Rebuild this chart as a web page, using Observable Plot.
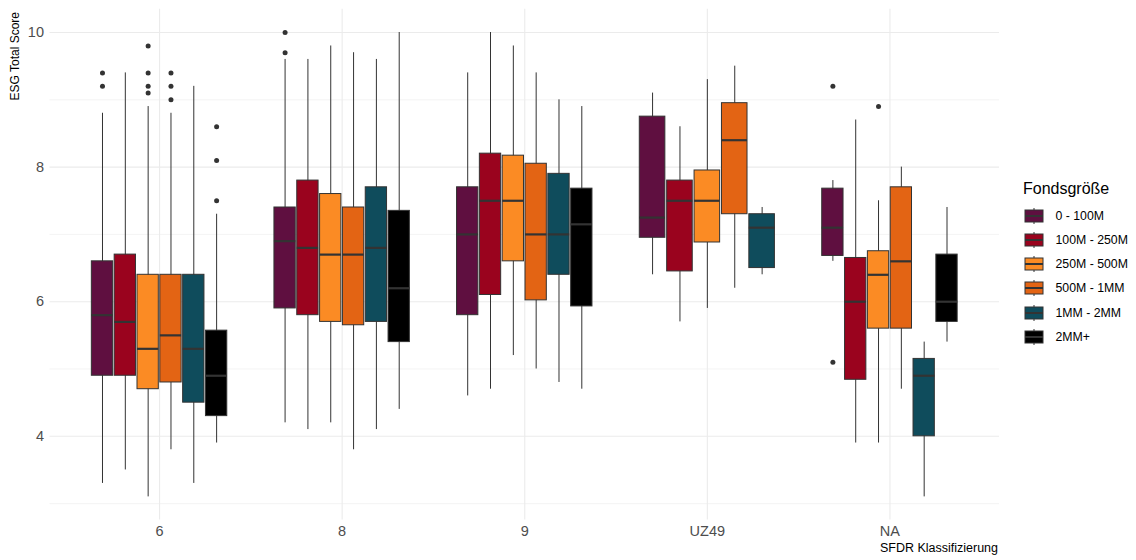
<!DOCTYPE html>
<html>
<head>
<meta charset="utf-8">
<script src="https://cdn.jsdelivr.net/npm/d3@7"></script>
<script src="https://cdn.jsdelivr.net/npm/@observablehq/plot@0.6"></script>
<style>
  body { margin: 0; background: #fff; font-family: "Liberation Sans", Arial, Helvetica, sans-serif; }
  #wrap { position: relative; width: 1136px; height: 560px; overflow: hidden; background: #fff; }
  #wrap > svg.main { position: absolute; left: 0; top: 0; }
  .ytitle { position: absolute; left: 9px; top: 12px; font-size: 12px; line-height: 12px; color: #000;
            writing-mode: vertical-rl; transform: rotate(180deg); white-space: nowrap; }
  .xtitle { position: absolute; left: 0; width: 998px; top: 542px; text-align: right; font-size: 12.5px; line-height: 1; color: #000; white-space: nowrap; }
  .ltitle { position: absolute; left: 1023px; top: 181px; font-size: 16px; line-height: 1; color: #000; white-space: nowrap; }
  #wrap > svg.lkey { position: absolute; left: 1024px; }
  .llab { position: absolute; left: 1055.5px; font-size: 12.3px; line-height: 14px; color: #000; white-space: nowrap; }
</style>
</head>
<body>
<div id="wrap"></div>
<script>
// ---- data ----
const categories = ["6", "8", "9", "UZ49", "NA"];
const groups = ["0 - 100M", "100M - 250M", "250M - 500M", "500M - 1MM", "1MM - 2MM", "2MM+"];
const colors = ["#5F0F40", "#9A031E", "#FB8B24", "#E36414", "#0F4C5C", "#000000"];
const yTicks = [4, 6, 8, 10];
const yMinor = [3, 5, 7, 9];
const legendTitle = "Fondsgröße";
const yTitle = "ESG Total Score";
const xTitle = "SFDR Klassifizierung";

// [group, lower whisker, Q1, median, Q3, upper whisker]
const stats6 = [
  ["0 - 100M",    3.3, 4.9,  5.8, 6.6,  8.8],
  ["100M - 250M", 3.5, 4.9,  5.7, 6.7,  9.4],
  ["250M - 500M", 3.1, 4.7,  5.3, 6.4,  8.9],
  ["500M - 1MM",  3.8, 4.8,  5.5, 6.4,  8.8],
  ["1MM - 2MM",   3.3, 4.5,  5.3, 6.4,  9.2],
  ["2MM+",        3.9, 4.3,  4.9, 5.57, 7.3]
];
const stats8 = [
  ["0 - 100M",    4.2, 5.9,  6.9, 7.4,  9.6],
  ["100M - 250M", 4.1, 5.8,  6.8, 7.8,  9.6],
  ["250M - 500M", 4.2, 5.7,  6.7, 7.6,  9.8],
  ["500M - 1MM",  3.8, 5.65, 6.7, 7.4,  9.7],
  ["1MM - 2MM",   4.1, 5.7,  6.8, 7.7,  9.6],
  ["2MM+",        4.4, 5.4,  6.2, 7.35, 10.0]
];
const stats9 = [
  ["0 - 100M",    4.6, 5.8,  7.0,  7.7,  9.4],
  ["100M - 250M", 4.7, 6.1,  7.5,  8.2,  10.0],
  ["250M - 500M", 5.2, 6.6,  7.5,  8.17, 9.8],
  ["500M - 1MM",  5.0, 6.02, 7.0,  8.05, 9.4],
  ["1MM - 2MM",   4.8, 6.4,  7.0,  7.9,  9.0],
  ["2MM+",        4.7, 5.93, 7.15, 7.68, 8.9]
];
const statsUZ49 = [
  ["0 - 100M",    6.4, 6.95, 7.25, 8.75, 9.1],
  ["100M - 250M", 5.7, 6.45, 7.5,  7.8,  8.6],
  ["250M - 500M", 5.9, 6.88, 7.5,  7.95, 9.3],
  ["500M - 1MM",  6.2, 7.3,  8.4,  8.95, 9.5],
  ["1MM - 2MM",   6.4, 6.5,  7.1,  7.3,  7.4]
];
const statsNA = [
  ["0 - 100M",    6.6, 6.68, 7.1, 7.68, 7.8],
  ["100M - 250M", 3.9, 4.84, 6.0, 6.65, 8.7],
  ["250M - 500M", 3.9, 5.6,  6.4, 6.75, 7.5],
  ["500M - 1MM",  4.7, 5.6,  6.6, 7.7,  8.0],
  ["1MM - 2MM",   3.1, 4.0,  4.9, 5.15, 5.4],
  ["2MM+",        5.4, 5.7,  6.0, 6.7,  7.4]
];
// [group, value]
const outliers6 = [
  ["0 - 100M", 9.4], ["0 - 100M", 9.2],
  ["250M - 500M", 9.8], ["250M - 500M", 9.4], ["250M - 500M", 9.2], ["250M - 500M", 9.1],
  ["500M - 1MM", 9.4], ["500M - 1MM", 9.2], ["500M - 1MM", 9.0],
  ["2MM+", 8.6], ["2MM+", 8.1], ["2MM+", 7.5]
];
const outliers8 = [["0 - 100M", 10.0], ["0 - 100M", 9.7]];
const outliers9 = [];
const outliersUZ49 = [];
const outliersNA = [["0 - 100M", 9.2], ["0 - 100M", 5.1], ["250M - 500M", 8.9]];

// ---- build tables (dodged positions) ----
const statsByCat = [stats6, stats8, stats9, statsUZ49, statsNA];
const outByCat = [outliers6, outliers8, outliers9, outliersUZ49, outliersNA];
const dodgeWidth = 0.75, boxWidth = 0.7;
const boxes = statsByCat.flatMap((rows, ci) => rows.map(([group, lo, q1, med, q3, hi], k) => {
  const n = rows.length;
  const xc = ci + (k - (n - 1) / 2) * dodgeWidth / n;
  const hw = boxWidth / n / 2;
  return {cat: categories[ci], group, xc, x1: xc - hw, x2: xc + hw, lo, q1, med, q3, hi};
}));
const outs = outByCat.flatMap((list, ci) => list.map(([group, v]) => {
  const b = boxes.find(d => d.cat === categories[ci] && d.group === group);
  return {group, xc: b.xc, v};
}));

const font = '"Liberation Sans", Arial, Helvetica, sans-serif';
const chart = Plot.plot({
  width: 999,
  height: 560,
  marginLeft: 49.5,
  marginRight: 0,
  marginTop: 8.8,
  marginBottom: 40.4,
  style: {fontFamily: font, background: "transparent", overflow: "visible"},
  x: {domain: [-0.6, categories.length - 0.4]},
  y: {domain: [2.755, 10.345]},
  color: {domain: groups, range: colors},
  marks: [
    Plot.ruleY(yMinor, {stroke: "#ececec", strokeWidth: 0.6}),
    Plot.ruleY(yTicks, {stroke: "#ebebeb", strokeWidth: 1.1}),
    Plot.ruleX(d3.range(categories.length), {stroke: "#ebebeb", strokeWidth: 1.1}),
    Plot.axisY(yTicks, {tickSize: 0, tickPadding: 6, fontSize: 14.5, color: "#4d4d4d", label: null,
      tickFormat: d3.format("d")}),
    Plot.axisX(d3.range(categories.length), {tickSize: 0, tickPadding: 6, fontSize: 14.5, color: "#4d4d4d",
      tickFormat: i => categories[i], label: null}),
    Plot.ruleX(boxes, {x: "xc", y1: "lo", y2: "hi", stroke: "#333333", strokeWidth: 1}),
    Plot.rect(boxes, {x1: "x1", x2: "x2", y1: "q1", y2: "q3", fill: "group", stroke: "#333333", strokeWidth: 1}),
    Plot.ruleY(boxes, {x1: "x1", x2: "x2", y: "med", stroke: "#333333", strokeWidth: 2.2}),
    Plot.dot(outs, {x: "xc", y: "v", r: 2.5, fill: "#333333", stroke: null})
  ]
});
chart.classList.add("main");

const wrap = document.getElementById("wrap");
wrap.appendChild(chart);

// axis titles
const yt = document.createElement("div");
yt.className = "ytitle"; yt.textContent = yTitle; wrap.appendChild(yt);
const xt = document.createElement("div");
xt.className = "xtitle"; xt.textContent = xTitle; wrap.appendChild(xt);

// legend
const lt = document.createElement("div");
lt.className = "ltitle"; lt.textContent = legendTitle; wrap.appendChild(lt);
const legendTop = 215.7, legendStep = 24.2;
groups.forEach((g, i) => {
  const cy = legendTop + i * legendStep;
  const key = document.createElementNS("http://www.w3.org/2000/svg", "svg");
  key.setAttribute("width", 20); key.setAttribute("height", 18);
  key.setAttribute("class", "lkey");
  key.style.top = (cy - 9) + "px";
  key.innerHTML =
    `<line x1="10" x2="10" y1="1" y2="17" stroke="#333" stroke-width="1"/>` +
    `<rect x="1" y="3" width="18" height="12" fill="${colors[i]}" stroke="#333" stroke-width="1"/>` +
    `<line x1="1" x2="19" y1="9" y2="9" stroke="#333" stroke-width="2"/>`;
  wrap.appendChild(key);
  const lab = document.createElement("div");
  lab.className = "llab"; lab.textContent = g;
  lab.style.top = (cy - 7) + "px";
  wrap.appendChild(lab);
});
</script>
</body>
</html>
